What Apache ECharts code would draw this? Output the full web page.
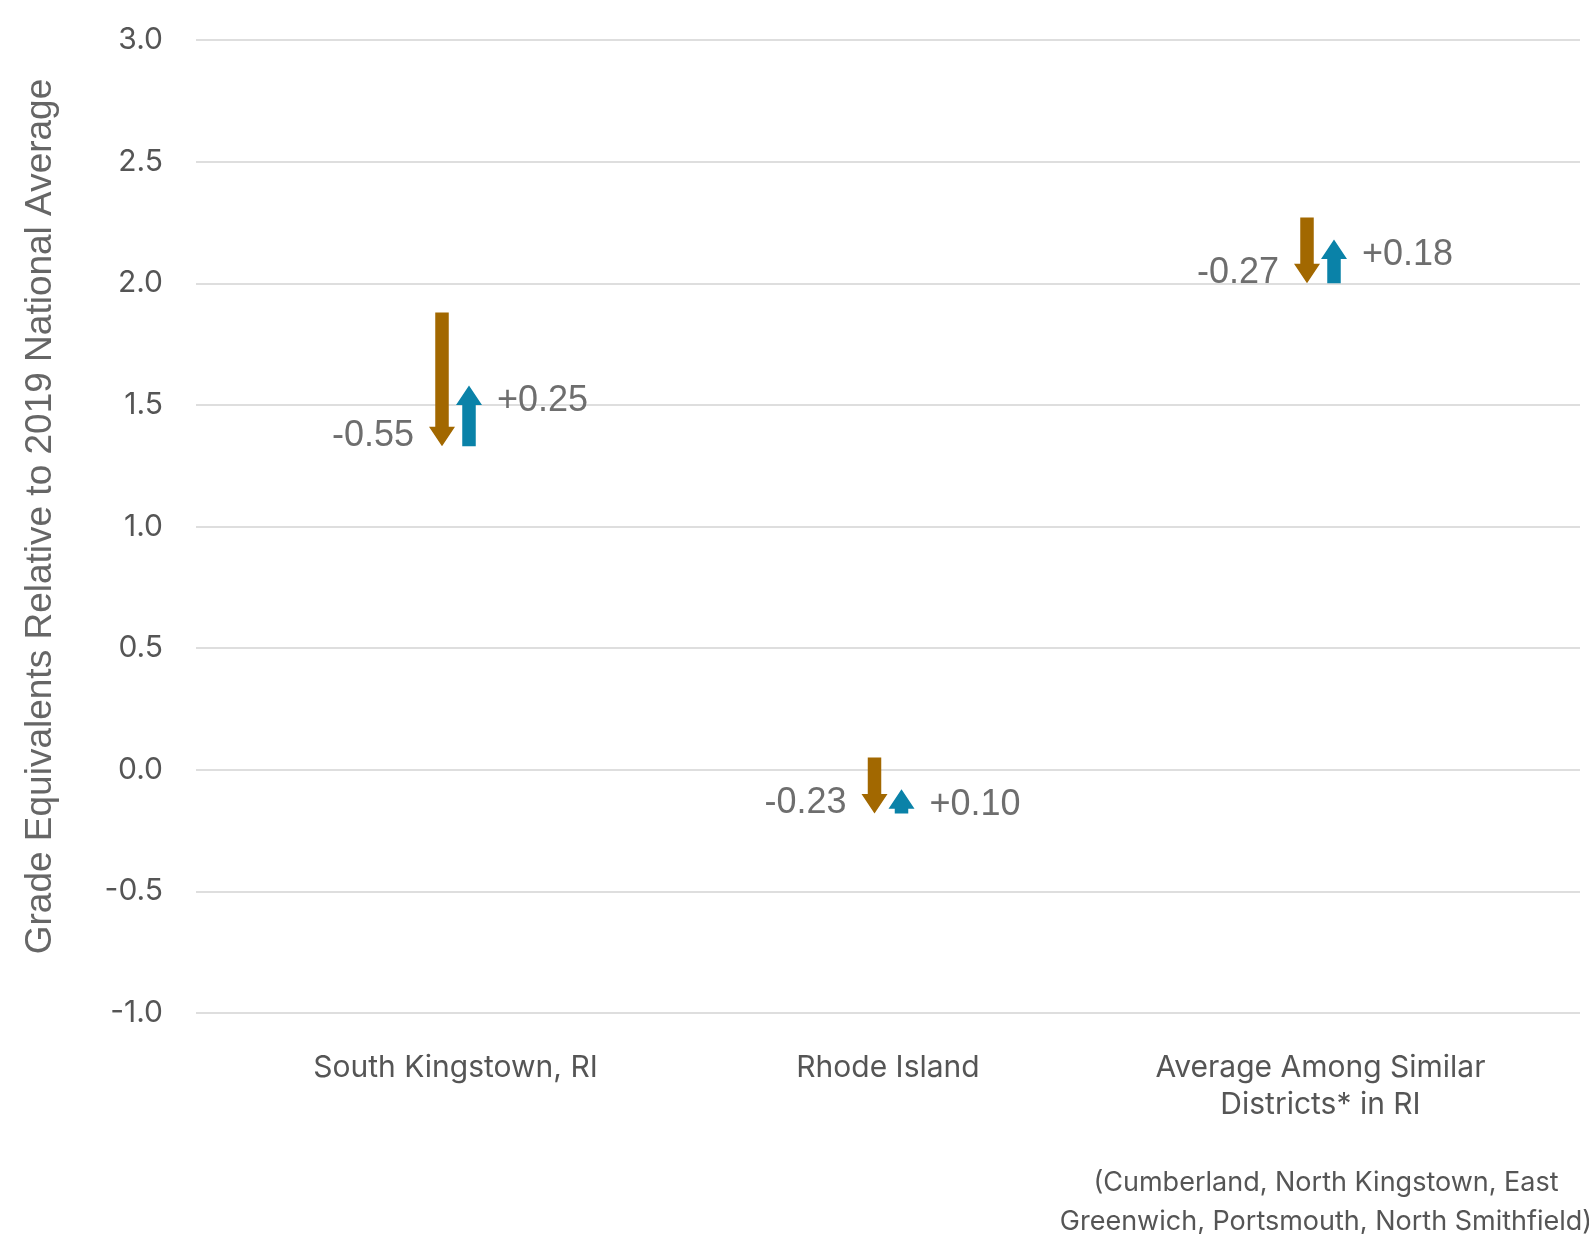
<!DOCTYPE html>
<html>
<head>
<meta charset="utf-8">
<script src="https://cdn.jsdelivr.net/npm/echarts@6/dist/echarts.min.js"></script>
<style>
html,body{margin:0;padding:0;background:#fff;}
#chart{width:1589px;height:1234px;}
</style>
</head>
<body>
<div id="chart"></div>
<script>
// ---- data ----
const categories = ['South Kingstown, RI', 'Rhode Island', 'Average Among Similar\nDistricts* in RI'];
const startValues = [1.88, 0.05, 2.27];   // level before the loss
const lossValues = [-0.55, -0.23, -0.27]; // down arrow change
const gainValues = [0.25, 0.10, 0.18];    // up arrow change
const yAxisTitle = 'Grade Equivalents Relative to 2019 National Average';
const footnote = '(Cumberland, North Kingstown, East\nGreenwich, Portsmouth, North Smithfield)';

const BROWN = '#A26800';
const TEAL = '#0A82A8';
const SANS = '"Liberation Sans", Arial, Helvetica, sans-serif';
const UI = 'Inter, "Noto Sans", sans-serif';

function fmt(v) {
  return (v > 0 ? '+' : '') + v.toFixed(2);
}

const seriesData = categories.map(function (c, i) {
  const mid = +(startValues[i] + lossValues[i]).toFixed(2);
  const end = +(mid + gainValues[i]).toFixed(2);
  return [i, startValues[i], mid, end, lossValues[i], gainValues[i]];
});

const chart = echarts.init(document.getElementById('chart'), null, {renderer: 'canvas'});

function renderItem(params, api) {
  const x = api.value(0);
  const pStart = api.coord([x, api.value(1)]);
  const pMid = api.coord([x, api.value(2)]);
  const pEnd = api.coord([x, api.value(3)]);
  const off = 13.5, hs = 6.75, hw = 13, hh = 19.5;
  const cxD = pStart[0] - off;
  const cxU = pStart[0] + off;
  const yTop = pStart[1], yTip = pMid[1], yUp = pEnd[1];
  const down = [
    [cxD - hs, yTop], [cxD + hs, yTop], [cxD + hs, yTip - hh], [cxD + hw, yTip - hh],
    [cxD, yTip], [cxD - hw, yTip - hh], [cxD - hs, yTip - hh]
  ];
  const up = [
    [cxU - hs, yTip], [cxU + hs, yTip], [cxU + hs, yUp + hh], [cxU + hw, yUp + hh],
    [cxU, yUp], [cxU - hw, yUp + hh], [cxU - hs, yUp + hh]
  ];
  return {
    type: 'group',
    children: [
      {type: 'polygon', shape: {points: down}, style: {fill: BROWN}},
      {type: 'polygon', shape: {points: up}, style: {fill: TEAL}},
      {type: 'text', style: {
        text: fmt(api.value(4)), x: cxD - hw - 15, y: yTip - 10,
        align: 'right', verticalAlign: 'middle',
        font: '36px ' + SANS, fill: '#6e6e6e'}},
      {type: 'text', style: {
        text: fmt(api.value(5)), x: cxU + hw + 15, y: yUp + 16,
        align: 'left', verticalAlign: 'middle',
        font: '36px ' + SANS, fill: '#6e6e6e'}}
    ]
  };
}

const option = {
  backgroundColor: '#ffffff',
  animation: false,
  grid: {left: 196, right: 9, top: 40, bottom: 221, containLabel: false},
  xAxis: {
    type: 'value',
    min: -0.6,
    max: 2.6,
    axisLine: {show: false},
    axisTick: {show: false},
    splitLine: {show: false},
    axisLabel: {
      customValues: [0, 1, 2],
      formatter: function (v) { return categories[Math.round(v)] || ''; },
      margin: 36,
      fontFamily: UI,
      fontSize: 30,
      lineHeight: 37,
      color: '#555555',
      align: 'center'
    }
  },
  yAxis: {
    type: 'value',
    min: -1,
    max: 3,
    interval: 0.5,
    name: yAxisTitle,
    nameLocation: 'middle',
    nameGap: 137,
    nameTextStyle: {
      fontFamily: SANS,
      fontSize: 37,
      color: '#666666',
      padding: [0, 0, 0, 20]
    },
    axisLine: {show: false},
    axisTick: {show: false},
    axisLabel: {
      formatter: function (v) { return v.toFixed(1); },
      margin: 33,
      fontFamily: UI,
      fontSize: 30,
      color: '#555555'
    },
    splitLine: {show: true, lineStyle: {color: '#dedede', width: 2}}
  },
  graphic: [{
    type: 'text',
    x: 1326,
    y: 1202,
    style: {
      text: footnote,
      align: 'center',
      verticalAlign: 'middle',
      font: '27px ' + UI,
      lineHeight: 39,
      fill: '#555555'
    }
  }],
  series: [{
    type: 'custom',
    renderItem: renderItem,
    encode: {x: 0, y: [1, 2, 3]},
    data: seriesData,
    clip: false
  }]
};

chart.setOption(option);
</script>
</body>
</html>
